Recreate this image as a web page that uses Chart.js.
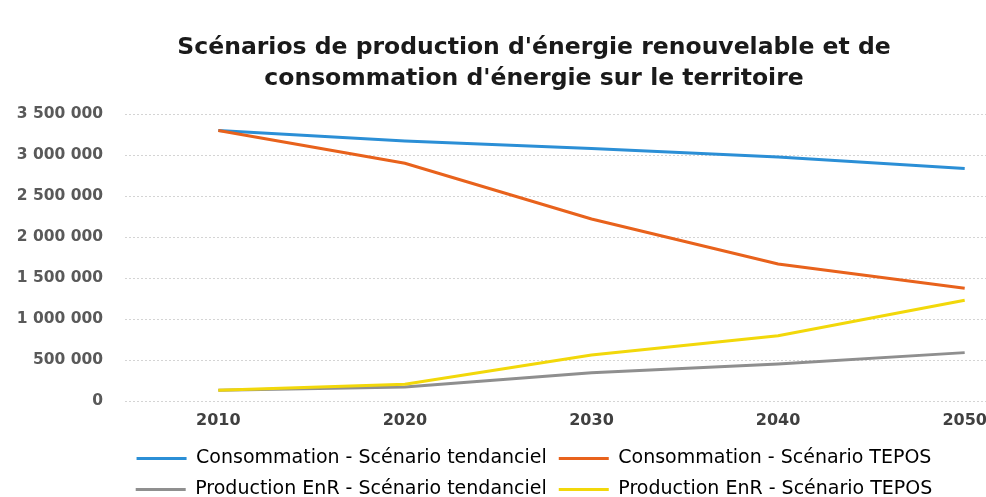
<!DOCTYPE html>
<html lang="fr">
<head>
<meta charset="utf-8">
<title>Scénarios énergie</title>
<script src="https://cdn.jsdelivr.net/npm/chart.js@4.4.1/dist/chart.umd.min.js"></script>
<style>
    html, body { margin: 0; padding: 0; background: #ffffff; overflow: hidden; }
    #wrap { position: relative; width: 1070px; height: 509px; }
</style>
</head>
<body>
<div id="wrap"><canvas id="energyChart"></canvas></div>
<script>
const years = ["2010", "2020", "2030", "2040", "2050"];
const consoTendanciel = [3300000, 3170000, 3080000, 2975000, 2835000];
const consoTepos = [3300000, 2900000, 2220000, 1670000, 1375000];
const prodTendanciel = [130000, 170000, 345000, 450000, 590000];
const prodTepos = [130000, 205000, 560000, 795000, 1230000];

const yMax = 3500000;
const yStep = 500000;

// "3500000" -> "3 500 000"
function formatSpaces(value) {
    return String(value).replace(/\B(?=(\d{3})+(?!\d))/g, " ");
}

function lineSet(label, data, color, order) {
    return {
        label: label,
        data: data,
        borderColor: color,
        backgroundColor: color,
        borderWidth: 3,
        pointRadius: 0,
        tension: 0,
        order: order,
    };
}

document.addEventListener("DOMContentLoaded", function () {
    const ctx = document.getElementById("energyChart");

    new Chart(ctx, {
        type: "line",
        data: {
            labels: years,
            datasets: [
                lineSet("Consommation - Scénario tendanciel", consoTendanciel, "#2b8fd6", 3),
                lineSet("Consommation - Scénario TEPOS", consoTepos, "#e8621c", 1),
                lineSet("Production EnR - Scénario tendanciel", prodTendanciel, "#8f8f8f", 2),
                lineSet("Production EnR - Scénario TEPOS", prodTepos, "#f2d80a", 0),
            ],
        },
        options: {
            responsive: true,
            maintainAspectRatio: false,
            animation: false,
            layout: { padding: { left: 10, right: 12, top: 0, bottom: 0 } },
            plugins: {
                tooltip: { enabled: false },
                title: {
                    display: true,
                    text: ["Scénarios de production d'énergie renouvelable et de",
                           "consommation d'énergie sur le territoire"],
                    color: "#1a1a1a",
                    font: { family: "'DejaVu Sans'", size: 23.5, weight: "bold", lineHeight: 1.32 },
                    padding: { top: 32, bottom: 20 },
                },
                legend: {
                    position: "bottom",
                    labels: {
                        boxWidth: 50,
                        boxHeight: 3,
                        padding: 12,
                        color: "#404040",
                        font: { family: "'DejaVu Sans'", size: 19 },
                        // plain coloured strokes, kept in dataset order
                        generateLabels: function (chart) {
                            return chart.data.datasets.map(function (ds, i) {
                                return {
                                    text: ds.label,
                                    fillStyle: ds.borderColor,
                                    strokeStyle: ds.borderColor,
                                    lineWidth: 0,
                                    hidden: false,
                                    datasetIndex: i,
                                };
                            });
                        },
                    },
                },
            },
            scales: {
                x: {
                    offset: true,
                    afterFit: function (scale) { scale.height = 36; },
                    grid: { display: false, drawTicks: false },
                    border: { display: false },
                    ticks: {
                        padding: 10,
                        color: "#404040",
                        font: { family: "'DejaVu Sans'", size: 16, weight: "bold" },
                    },
                },
                y: {
                    min: 0,
                    max: yMax,
                    afterFit: function (scale) { scale.width = 115; },
                    grid: {
                        color: "#d4d4d4",
                        lineWidth: 1,
                        drawTicks: false,
                    },
                    border: { display: false, dash: [2, 2] },
                    ticks: {
                        stepSize: yStep,
                        padding: 22,
                        color: "#595959",
                        font: { family: "'DejaVu Sans'", size: 15.5, weight: "bold" },
                        callback: function (value) { return formatSpaces(value); },
                    },
                },
            },
        },
    });
});
</script>
</body>
</html>
